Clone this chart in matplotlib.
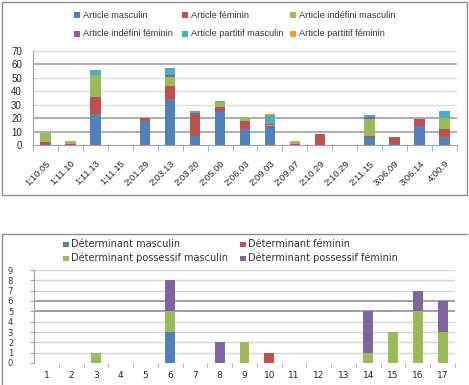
import matplotlib
matplotlib.use("Agg")
import matplotlib.pyplot as plt
import numpy as np
from matplotlib.patches import Rectangle
from matplotlib.lines import Line2D

# ---------------- data: top chart ----------------
top_categories = ["1;10.05", "1;11.10", "1;11.13", "1;11.15", "2;01.29", "2;03.13",
                  "2;03.20", "2;05.00", "2;06.03", "2;09.03", "2;09.07", "2;10.29",
                  "2;10.29", "2;11.15", "3;06.09", "3;06.14", "4;00.9"]
top_series_names = ["Article masculin", "Article féminin", "Article indéfini masculin",
                    "Article indéfini féminin", "Article partitif masculin",
                    "Article partitif féminin"]
article_masculin          = [0, 0, 23, 0, 18, 34, 7, 25, 12, 13, 0, 0, 0, 6, 1, 14, 6]
article_feminin           = [2, 1, 13, 0, 2, 10, 17, 3, 6, 1, 1, 8, 0, 1, 5, 5, 6]
article_indefini_masc     = [7, 2, 16, 0, 1, 7, 0, 4, 3, 1, 2, 0, 0, 12, 0, 0, 8]
article_indefini_fem      = [0, 0, 0, 0, 0, 1, 0, 0, 0, 1, 0, 0, 0, 2, 0, 0, 0]
article_partitif_masc     = [0, 0, 4, 0, 0, 5, 1, 1, 0, 6, 0, 0, 0, 1, 0, 0, 5]
article_partitif_fem      = [0, 0, 0, 0, 0, 0, 0, 0, 0, 1, 0, 0, 0, 0, 0, 0, 0]
top_yticks = [0, 10, 20, 30, 40, 50, 60, 70]

# ---------------- data: bottom chart ----------------
bottom_categories = [str(i) for i in range(1, 18)]
bottom_series_names = ["Déterminant masculin", "Déterminant féminin",
                       "Déterminant possessif masculin", "Déterminant possessif féminin"]
det_masculin      = [0, 0, 0, 0, 0, 3, 0, 0, 0, 0, 0, 0, 0, 0, 0, 0, 0]
det_feminin       = [0, 0, 0, 0, 0, 0, 0, 0, 0, 1, 0, 0, 0, 0, 0, 0, 0]
det_poss_masculin = [0, 0, 1, 0, 0, 2, 0, 0, 2, 0, 0, 0, 0, 1, 3, 5, 3]
det_poss_feminin  = [0, 0, 0, 0, 0, 3, 0, 2, 0, 0, 0, 0, 0, 4, 0, 2, 3]
bottom_yticks = list(range(0, 10))

top_colors = ["#4F81BD", "#C0504D", "#9BBB59", "#8064A2", "#4BACC6", "#F79646"]
bottom_colors = ["#4F81BD", "#C0504D", "#9BBB59", "#8064A2"]

W, H = 469, 385
fig = plt.figure(figsize=(W / 100, H / 100), dpi=100)
fig.patch.set_facecolor("white")

def fx(x):
    return x / W

def fy(y):
    return 1 - y / H

top_font = ["Liberation Sans", "DejaVu Sans"]
bot_font = ["DejaVu Sans"]

# ---------------- frames ----------------
frame_col = "#8C8C8C"
fig.add_artist(Rectangle((fx(2), fy(195)), fx(467) - fx(2), fy(2) - fy(195),
                         transform=fig.transFigure, fill=False, edgecolor=frame_col, lw=1))
fig.add_artist(Line2D([fx(2), fx(467)], [fy(234), fy(234)], transform=fig.transFigure,
                      color=frame_col, lw=1))
fig.add_artist(Line2D([fx(2), fx(2)], [fy(234), fy(385)], transform=fig.transFigure,
                      color=frame_col, lw=1))

# ---------------- top chart ----------------
ax1 = fig.add_axes([fx(33), fy(145), fx(457) - fx(33), fy(51) - fy(145)])
top_data = [article_masculin, article_feminin, article_indefini_masc,
            article_indefini_fem, article_partitif_masc, article_partitif_fem]
x1 = np.arange(len(top_categories))
bottom = np.zeros(len(top_categories))
for vals, c in zip(top_data, top_colors):
    v = np.array(vals, dtype=float)
    ax1.bar(x1, v, 0.42, bottom=bottom, color=c, linewidth=0, zorder=3)
    bottom += v
ax1.set_xlim(-0.5, len(top_categories) - 0.5)
ax1.set_ylim(0, 70)
ax1.set_yticks(top_yticks)
ax1.set_yticklabels([str(t) for t in top_yticks], family=top_font, fontsize=7, color="#222222")
for t in top_yticks[1:]:
    dark = t in (10, 20, 60)
    ax1.axhline(t, color="#A0A0A0" if dark else "#DCDCDC", lw=1.2 if dark else 1.0, zorder=1)
ax1.set_xticks(x1)
ax1.set_xticklabels(top_categories, rotation=45, ha="right", va="top",
                    rotation_mode="anchor", family=top_font, fontsize=6.8, color="#222222")
ax1.set_xticks(np.arange(-0.5, len(top_categories)), minor=True)
ax1.tick_params(axis="x", which="major", length=0, pad=10)
ax1.tick_params(axis="x", which="minor", length=4, color="#A0A0A0", direction="out")
ax1.tick_params(axis="y", length=0, pad=8)
for s in ["top", "right"]:
    ax1.spines[s].set_visible(False)
ax1.spines["left"].set_color("#A0A0A0")
ax1.spines["bottom"].set_color("#A0A0A0")
ax1.set_facecolor("none")

# top legend (manual, 3 columns x 2 rows)
leg_x = [77, 185, 293]
leg_y = [15, 34]
for i, (name, c) in enumerate(zip(top_series_names, top_colors)):
    r, col = divmod(i, 3)
    x0, y0 = leg_x[col], leg_y[r]
    fig.add_artist(Rectangle((fx(x0 - 3), fy(y0 + 3)), 6 / W, 6 / H,
                             transform=fig.transFigure, color=c, lw=0))
    fig.text(fx(x0 + 6), fy(y0), name, family=top_font, fontsize=6.6,
             color="#333333", va="center", ha="left")

# ---------------- bottom chart ----------------
ax2 = fig.add_axes([fx(34), fy(363), fx(455) - fx(34), fy(270) - fy(363)])
bot_data = [det_masculin, det_feminin, det_poss_masculin, det_poss_feminin]
x2 = np.arange(len(bottom_categories))
bottom = np.zeros(len(bottom_categories))
for vals, c in zip(bot_data, bottom_colors):
    v = np.array(vals, dtype=float)
    ax2.bar(x2, v, 0.4, bottom=bottom, color=c, linewidth=0, zorder=3)
    bottom += v
ax2.set_xlim(-0.5, len(bottom_categories) - 0.5)
ax2.set_ylim(0, 9)
ax2.set_yticks(bottom_yticks)
ax2.set_yticklabels([str(t) for t in bottom_yticks], family=bot_font, fontsize=6, color="#333333")
for t in bottom_yticks[1:]:
    dark = t in (5, 6)
    ax2.axhline(t, color="#909090" if dark else "#D4D4D4", lw=1.2 if dark else 1.0, zorder=1)
ax2.set_xticks(x2)
ax2.set_xticklabels(bottom_categories, family=bot_font, fontsize=6.5, color="#222222")
ax2.set_xticks(np.arange(0.5, len(bottom_categories)), minor=True)
ax2.tick_params(axis="x", which="major", length=0, pad=6)
ax2.tick_params(axis="x", which="minor", length=3, color="#A0A0A0", direction="out")
ax2.tick_params(axis="y", length=3, color="#A0A0A0", pad=12)
for s in ["top", "right", "bottom"]:
    ax2.spines[s].set_visible(False)
ax2.spines["left"].set_color("#A0A0A0")
ax2.set_facecolor("none")

leg2_x = [66, 243]
leg2_y = [244, 258]
for i, (name, c) in enumerate(zip(bottom_series_names, bottom_colors)):
    r, col = divmod(i, 2)
    x0, y0 = leg2_x[col], leg2_y[r]
    fig.add_artist(Rectangle((fx(x0 - 3), fy(y0 + 2.5)), 6 / W, 5 / H,
                             transform=fig.transFigure, color=c, lw=0))
    fig.text(fx(x0 + 5), fy(y0), name, family=bot_font, fontsize=7,
             color="#333333", va="center", ha="left")

fig.savefig("out.png", dpi=100)
